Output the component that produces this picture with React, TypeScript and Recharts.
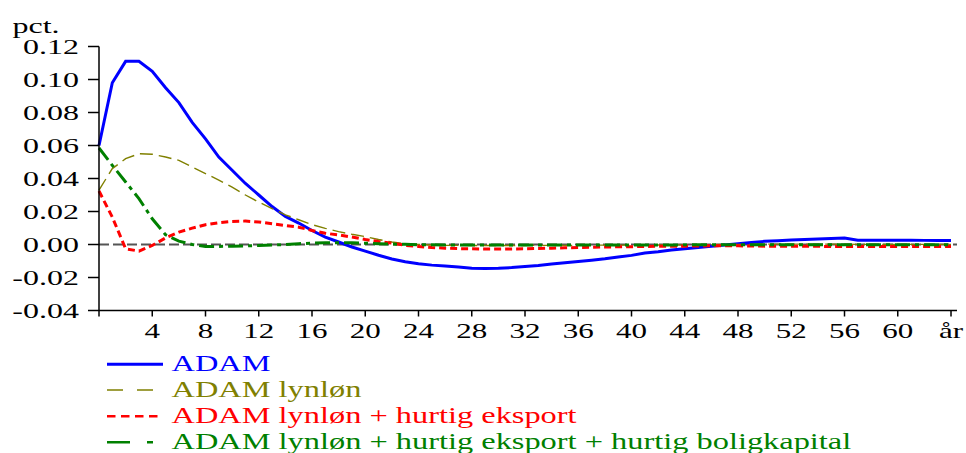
import React from 'react';
import { LineChart, Line, XAxis, YAxis, ReferenceLine } from 'recharts';

const quarters = [
  0, 1, 2, 3, 4, 5, 6, 7, 8, 9, 10, 11, 12, 13, 14, 15, 16, 17, 18, 19, 20,
  21, 22, 23, 24, 25, 26, 27, 28, 29, 30, 31, 32, 33, 34, 35, 36, 37, 38, 39, 40,
  41, 42, 43, 44, 45, 46, 47, 48, 49, 50, 51, 52, 53, 54, 55, 56, 57, 58, 59, 60,
  61, 62, 63, 64,
];

const adam = [
  0.060, 0.098, 0.111, 0.111, 0.105, 0.095, 0.086, 0.074, 0.064, 0.053, 0.045,
  0.037, 0.030, 0.023, 0.017, 0.013, 0.0085, 0.0045, 0.0015, -0.0015, -0.004,
  -0.0065, -0.0088, -0.0105, -0.0117, -0.0125, -0.013, -0.0137, -0.0144, -0.0145, -0.0144,
  -0.014, -0.0134, -0.0127, -0.0118, -0.011, -0.0103, -0.0095, -0.0087, -0.0076, -0.0066,
  -0.0052, -0.0044, -0.0034, -0.0026, -0.0018, -0.001, -0.0003, 0.0004, 0.0012, 0.0019,
  0.0023, 0.0028, 0.003, 0.0033, 0.0036, 0.0039, 0.0026, 0.0026, 0.0026, 0.0026,
  0.0026, 0.0025, 0.0025, 0.0025,
];

const lynlon = [
  0.033, 0.046, 0.052, 0.055, 0.0547, 0.053, 0.051, 0.047, 0.043, 0.039, 0.0348,
  0.030, 0.0257, 0.0217, 0.018, 0.015, 0.012, 0.0098, 0.0078, 0.0062, 0.0048,
  0.003, 0.0015, 0.0006, 0.0, -0.0003, -0.0005, -0.0005, -0.0006, -0.0006, -0.0006,
  -0.0006, -0.0006, -0.0005, -0.0005, -0.0005, -0.0005, -0.0004, -0.0004, -0.0004, -0.0004,
  -0.0003, -0.0003, -0.0003, -0.0002, -0.0002, -0.0001, 0.0, 0.0, 0.0001, 0.0002,
  0.0002, 0.0002, 0.0002, 0.0002, 0.0002, 0.0002, 0.0001, 0.0001, 0.0001, 0.0001,
  0.0001, 0.0001, 0.0001, 0.0001,
];

const eksport = [
  0.0324, 0.0166, -0.0026, -0.004, -0.0006, 0.004, 0.0075, 0.0099, 0.012, 0.0132, 0.014,
  0.0142, 0.0136, 0.0126, 0.0115, 0.0105, 0.0085, 0.0068, 0.0058, 0.0045, 0.003,
  0.0018, 0.0008, -0.0005, -0.0012, -0.0018, -0.0022, -0.0025, -0.0026, -0.0027, -0.0027,
  -0.0027, -0.0026, -0.0024, -0.0022, -0.002, -0.0018, -0.0017, -0.0015, -0.0014, -0.0013,
  -0.0012, -0.0011, -0.001, -0.001, -0.0009, -0.0008, -0.0008, -0.0008, -0.0009, -0.001,
  -0.001, -0.0011, -0.0011, -0.0011, -0.0012, -0.0012, -0.0012, -0.0012, -0.0012, -0.0012,
  -0.0012, -0.0012, -0.0012, -0.0012,
];

const bolig = [
  0.0585, 0.048, 0.0379, 0.0278, 0.0156, 0.0059, 0.002, 0.0, -0.0012, -0.0012, -0.001,
  -0.0008, -0.0006, -0.0003, 0.0, 0.0005, 0.0008, 0.001, 0.001, 0.001, 0.0008,
  0.0005, 0.0003, 0.0001, -0.0001, -0.0002, -0.0003, -0.0003, -0.0003, -0.0003, -0.0003,
  -0.0003, -0.0003, -0.0003, -0.0003, -0.0003, -0.0003, -0.0003, -0.0003, -0.0003, -0.0003,
  -0.0003, -0.0003, -0.0003, -0.0002, -0.0002, -0.0002, -0.0001, -0.0001, -0.0001, -0.0001,
  -0.0001, -0.0001, -0.0001, -0.0001, -0.0001, -0.0001, -0.0001, -0.0001, -0.0001, -0.0001,
  -0.0001, -0.0001, -0.0001, -0.0001,
];

const xTicks = [0, 4, 8, 12, 16, 20, 24, 28, 32, 36, 40, 44, 48, 52, 56, 60, 64];
const xTickLabels = ['', '4', '8', '12', '16', '20', '24', '28', '32', '36', '40', '44', '48', '52', '56', '60', 'år'];
const yTicks = [-0.04, -0.02, 0, 0.02, 0.04, 0.06, 0.08, 0.1, 0.12];
const yTickLabels = ['-0.04', '-0.02', '0.00', '0.02', '0.04', '0.06', '0.08', '0.10', '0.12'];
const unitLabel = 'pct.';

const seriesNames = [
  'ADAM',
  'ADAM lynløn',
  'ADAM lynløn + hurtig eksport',
  'ADAM lynløn + hurtig eksport + hurtig boligkapital',
];

const series = [
  { key: 'adam', name: seriesNames[0], color: '#0000FF', width: 3, dash: undefined, legendDash: undefined, legendWidth: 3, legendX2: 163 },
  { key: 'lynlon', name: seriesNames[1], color: '#808000', width: 1.4, dash: '13 6', legendDash: '16 14', legendWidth: 1.4, legendX2: 153 },
  { key: 'eksport', name: seriesNames[2], color: '#FF0000', width: 3, dash: '7 4', legendDash: '8.5 5.5', legendWidth: 2.5, legendX2: 160 },
  { key: 'bolig', name: seriesNames[3], color: '#008000', width: 3, dash: '15 5 4 5', legendDash: '23 17 6 100', legendWidth: 2.5, legendX2: 153 },
];

const data = quarters.map((q, i) => ({
  x: q,
  adam: adam[i],
  lynlon: lynlon[i],
  eksport: eksport[i],
  bolig: bolig[i],
}));

const FONT = '"Liberation Serif", "Times New Roman", serif';

const XTick = (props: any) => {
  const { x, y, payload } = props;
  const idx = xTicks.indexOf(payload.value);
  const label = idx >= 0 ? xTickLabels[idx] : '';
  if (!label) return <g />;
  return (
    <g transform={`translate(${x},${y})`}>
      <text transform="scale(1.55,1)" textAnchor="middle" y={20} fontSize={20} fontFamily={FONT} fill="#000">
        {label}
      </text>
    </g>
  );
};

const YTick = (props: any) => {
  const { x, y, payload } = props;
  const idx = yTicks.indexOf(payload.value);
  const label = idx >= 0 ? yTickLabels[idx] : '';
  return (
    <g transform={`translate(${x},${y})`}>
      <text transform="scale(1.6,1)" textAnchor="end" y={7.5} fontSize={20} fontFamily={FONT} fill="#000">
        {label}
      </text>
    </g>
  );
};

const legendBaselines = [370.8, 396.5, 422.7, 448.8];

export default function App() {
  return (
    <div style={{ position: 'absolute', left: 0, top: 0, width: 966, height: 453, background: '#fff' }}>
      <LineChart
        width={966}
        height={453}
        data={data}
        margin={{ top: 46.5, right: 9, bottom: 112.5, left: 0 }}
        style={{ fontFamily: FONT }}
      >
        <XAxis
          dataKey="x"
          type="number"
          domain={[0, 64.45]}
          ticks={xTicks}
          interval={0}
          height={30}
          tickSize={6}
          tickMargin={2}
          axisLine={{ stroke: '#000', strokeWidth: 1.5 }}
          tickLine={{ stroke: '#000', strokeWidth: 1.5 }}
          tick={<XTick />}
        />
        <YAxis
          type="number"
          domain={[-0.04, 0.12]}
          ticks={yTicks}
          interval={0}
          width={99}
          tickSize={11}
          tickMargin={9}
          axisLine={{ stroke: '#000', strokeWidth: 1.5 }}
          tickLine={{ stroke: '#000', strokeWidth: 1.5 }}
          tick={<YTick />}
        />
        <ReferenceLine y={0} stroke="#555" strokeWidth={2} strokeDasharray="10 4" />
        {series.map((s) => (
          <Line
            key={s.key}
            type="linear"
            dataKey={s.key}
            name={s.name}
            stroke={s.color}
            strokeWidth={s.width}
            strokeDasharray={s.dash}
            dot={false}
            activeDot={false}
            isAnimationActive={false}
          />
        ))}
      </LineChart>
      <svg
        width={966}
        height={453}
        style={{ position: 'absolute', left: 0, top: 0, pointerEvents: 'none' }}
      >
        <g transform="translate(12.5,33)">
          <text transform="scale(1.6,1)" fontSize={20} fontFamily={FONT} fill="#000">
            {unitLabel}
          </text>
        </g>
        {series.map((s, i) => {
          const base = legendBaselines[i];
          return (
            <g key={s.key}>
              <line
                x1={107}
                x2={s.legendX2}
                y1={base - 6.5}
                y2={base - 6.5}
                stroke={s.color}
                strokeWidth={s.legendWidth}
                strokeDasharray={s.legendDash}
              />
              <g transform={`translate(171.5,${base})`}>
                <text transform="scale(1.35,1)" fontSize={24} fontFamily={FONT} fill={s.color}>
                  {s.name}
                </text>
              </g>
            </g>
          );
        })}
      </svg>
    </div>
  );
}
